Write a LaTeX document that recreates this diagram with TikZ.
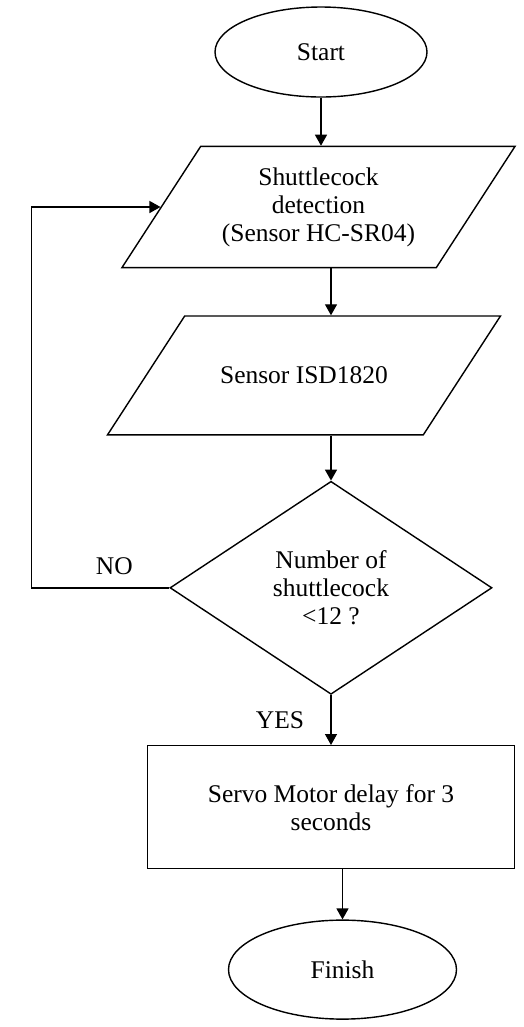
\documentclass[tikz,border=0pt]{standalone}
\usepackage{fontspec}
\setmainfont{Liberation Serif}
\usetikzlibrary{positioning, shapes, arrows.meta}

\begin{document}
\begin{tikzpicture}[node distance=0.95cm, every node/.style={font=\fontsize{14.5}{16}\selectfont},
  terminal/.style={ellipse, draw, thick, minimum width=4.24cm, minimum height=1.8cm, inner sep=0pt},
  io/.style={trapezium, trapezium left angle=57, trapezium right angle=123, trapezium stretches body=true, draw, thick, minimum width=7.86cm, align=center, inner xsep=0pt},
  decision/.style={diamond, draw, thick, minimum width=6.44cm, minimum height=4.26cm, align=center, inner sep=0pt},
  process/.style={rectangle, draw, thick, minimum width=7.34cm, minimum height=2.46cm, align=center},
  arrow/.style={-{Triangle[length=2.2mm, width=2.4mm]}, thick},
  lbl/.style={inner sep=0pt}
]
    \useasboundingbox (0,0) rectangle (10.48,-20.54);
    \node[terminal] (start) at (6.42,-1.04) {Start};
    \node[io, below=0.96cm of start, xshift=-0.05cm, inner ysep=0.418cm] (detect) {Shuttlecock\\detection\\(Sensor HC-SR04)};
    \node[io, below=0.94cm of detect, xshift=-0.29cm, inner ysep=1.017cm] (sound) {Sensor ISD1820};
    \node[decision, below=0.9cm of sound, xshift=0.54cm] (check) {Number of\\shuttlecock\\<12 ?};
    \node[process, below=1cm of check] (servo) {Servo Motor delay for 3\\seconds};
    \node[terminal, below=1cm of servo, xshift=0.23cm, minimum width=4.56cm, minimum height=1.98cm] (finish) {Finish};

    % loop back when count not reached
    \coordinate[left=2.76cm of check.west] (loop);

    \draw[arrow] (start.south) -- (start.south |- detect.north);
    \draw[arrow] (detect.south -| check.north) -- (sound.north -| check.north);
    \draw[arrow] (sound.south -| check.north) -- (check.north);
    \draw[arrow] (check.south) -- (servo.north);
    \draw[arrow] (servo.south -| finish.north) -- (finish.north);
    \draw[arrow] (check.west) -- (loop) |- (detect.left side);

    \node[lbl] (no) at ([xshift=-1.1cm, yshift=0.44cm]check.west) {NO};
    \node[lbl] (yes) at ([xshift=-1.02cm, yshift=-0.5cm]check.south) {YES};
\end{tikzpicture}
\end{document}
